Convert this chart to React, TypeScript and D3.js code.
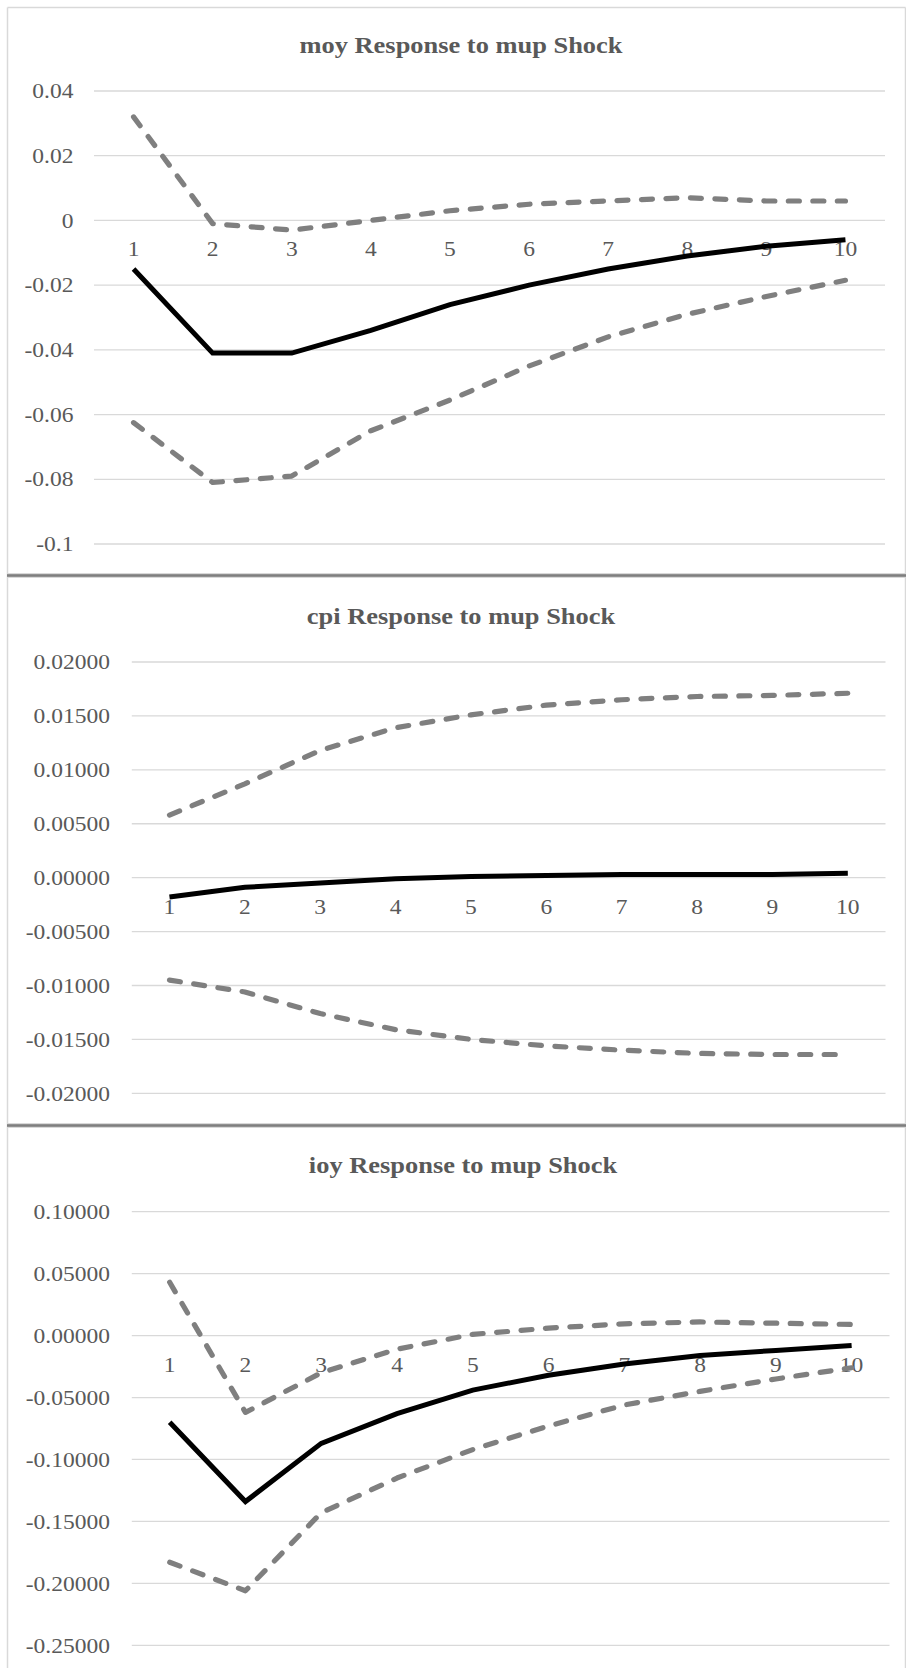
import React from "react";
import * as d3 from "d3";

const periods = ["1", "2", "3", "4", "5", "6", "7", "8", "9", "10"];

const moyImpulse = [-0.015, -0.041, -0.041, -0.034, -0.026, -0.02, -0.015, -0.011, -0.008, -0.006];
const moyUpper = [0.032, -0.001, -0.003, 0.0, 0.003, 0.005, 0.006, 0.007, 0.006, 0.006];
const moyLower = [-0.0625, -0.081, -0.079, -0.065, -0.0555, -0.045, -0.036, -0.029, -0.0235, -0.0185];
const moyTicks = [0.04, 0.02, 0, -0.02, -0.04, -0.06, -0.08, -0.1];
const moyTickLabels = ["0.04", "0.02", "0", "-0.02", "-0.04", "-0.06", "-0.08", "-0.1"];

const cpiImpulse = [-0.0018, -0.0009, -0.0005, -0.0001, 0.0001, 0.0002, 0.0003, 0.0003, 0.0003, 0.0004];
const cpiUpper = [0.0058, 0.0087, 0.0118, 0.0139, 0.0151, 0.016, 0.0165, 0.0168, 0.0169, 0.0171];
const cpiLower = [-0.0095, -0.0106, -0.0126, -0.0141, -0.015, -0.0156, -0.016, -0.0163, -0.0164, -0.0164];
const cpiTicks = [0.02, 0.015, 0.01, 0.005, 0, -0.005, -0.01, -0.015, -0.02];
const cpiTickLabels = ["0.02000", "0.01500", "0.01000", "0.00500", "0.00000", "-0.00500", "-0.01000", "-0.01500", "-0.02000"];

const ioyImpulse = [-0.07, -0.134, -0.087, -0.063, -0.044, -0.032, -0.023, -0.016, -0.012, -0.008];
const ioyUpper = [0.043, -0.062, -0.03, -0.011, 0.001, 0.006, 0.0095, 0.011, 0.01, 0.009];
const ioyLower = [-0.183, -0.206, -0.143, -0.115, -0.092, -0.073, -0.056, -0.045, -0.035, -0.026];
const ioyTicks = [0.1, 0.05, 0, -0.05, -0.1, -0.15, -0.2, -0.25];
const ioyTickLabels = ["0.10000", "0.05000", "0.00000", "-0.05000", "-0.10000", "-0.15000", "-0.20000", "-0.25000"];

const titles = ["moy Response to mup Shock", "cpi Response to mup Shock", "ioy Response to mup Shock"];

const FONT = "'Liberation Serif', 'Times New Roman', serif";
const TEXT = "#595959";
const GRID = "#d9d9d9";
const GRAY = "#7f7f7f";
const SX = 1.12;

type PanelProps = {
  title: string;
  titleX: number;
  titleBase: number;
  impulse: number[];
  upper: number[];
  lower: number[];
  ticks: number[];
  tickLabels: string[];
  domain: [number, number];
  yRange: [number, number];
  xRange: [number, number];
  labelRight: number;
};

function Panel(p: PanelProps) {
  const x = d3.scaleBand<string>().domain(periods).range(p.xRange);
  const cx = (i: number) => (x(periods[i]) as number) + x.bandwidth() / 2;
  const y = d3.scaleLinear().domain(p.domain).range(p.yRange);
  const line = d3
    .line<number>()
    .x((_, i) => cx(i))
    .y((d) => y(d));
  const zero = y(0);
  return (
    <g>
      <text
        transform={`translate(${p.titleX},${p.titleBase}) scale(${SX},1)`}
        textAnchor="middle"
        fontFamily={FONT}
        fontWeight="bold"
        fontSize={23.6}
        fill={TEXT}
      >
        {p.title}
      </text>
      {p.ticks.map((t, i) => (
        <g key={i}>
          <line x1={p.xRange[0]} x2={p.xRange[1]} y1={y(t)} y2={y(t)} stroke={GRID} strokeWidth={1.3} />
          <text
            transform={`translate(${p.labelRight},${y(t) + 7.2}) scale(${SX},1)`}
            textAnchor="end"
            fontFamily={FONT}
            fontSize={21}
            fill={TEXT}
          >
            {p.tickLabels[i]}
          </text>
        </g>
      ))}
      {periods.map((c, i) => (
        <text
          key={c}
          transform={`translate(${cx(i)},${zero + 36}) scale(${SX},1)`}
          textAnchor="middle"
          fontFamily={FONT}
          fontSize={21}
          fill={TEXT}
        >
          {c}
        </text>
      ))}
      <path d={line(p.upper) || ""} fill="none" stroke={GRAY} strokeWidth={5.2} strokeDasharray="11 13.5" strokeLinecap="round" strokeLinejoin="round" />
      <path d={line(p.lower) || ""} fill="none" stroke={GRAY} strokeWidth={5.2} strokeDasharray="11 13.5" strokeLinecap="round" strokeLinejoin="round" />
      <path d={line(p.impulse) || ""} fill="none" stroke="#000" strokeWidth={5} strokeLinejoin="miter" />
    </g>
  );
}

export default function App() {
  return (
    <svg width={906} height={1668} style={{ position: "absolute", left: 0, top: 0, background: "#fff" }}>
      <rect x={0} y={0} width={906} height={1668} fill="#fff" />
      <line x1={7.5} x2={905.5} y1={7.5} y2={7.5} stroke={GRID} strokeWidth={1.5} />
      <line x1={7.5} x2={7.5} y1={7.5} y2={1668} stroke={GRID} strokeWidth={1.5} />
      <line x1={905.5} x2={905.5} y1={7.5} y2={1668} stroke={GRID} strokeWidth={1.5} />
      <rect x={7} y={573} width={899} height={5} fill={GRID} />
      <rect x={7} y={574.2} width={899} height={2.6} fill={GRAY} />
      <rect x={7} y={1123} width={899} height={5} fill={GRID} />
      <rect x={7} y={1124.2} width={899} height={2.6} fill={GRAY} />

      <Panel
        title={titles[0]}
        titleX={461}
        titleBase={52.5}
        impulse={moyImpulse}
        upper={moyUpper}
        lower={moyLower}
        ticks={moyTicks}
        tickLabels={moyTickLabels}
        domain={[-0.1, 0.04]}
        yRange={[544, 91]}
        xRange={[94, 885]}
        labelRight={73.5}
      />
      <Panel
        title={titles[1]}
        titleX={461}
        titleBase={624}
        impulse={cpiImpulse}
        upper={cpiUpper}
        lower={cpiLower}
        ticks={cpiTicks}
        tickLabels={cpiTickLabels}
        domain={[-0.02, 0.02]}
        yRange={[1093.3, 662]}
        xRange={[131.8, 885.5]}
        labelRight={110}
      />
      <Panel
        title={titles[2]}
        titleX={463}
        titleBase={1173}
        impulse={ioyImpulse}
        upper={ioyUpper}
        lower={ioyLower}
        ticks={ioyTicks}
        tickLabels={ioyTickLabels}
        domain={[-0.25, 0.1]}
        yRange={[1645.3, 1211.7]}
        xRange={[131.8, 889.5]}
        labelRight={110}
      />
    </svg>
  );
}
